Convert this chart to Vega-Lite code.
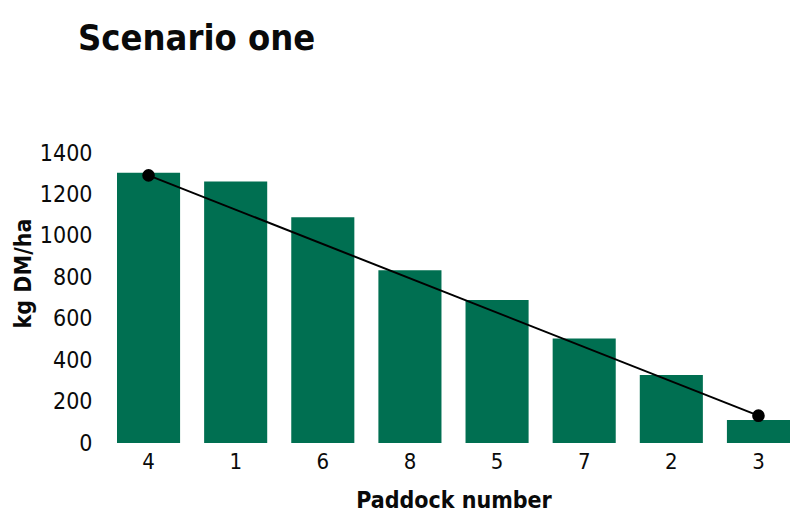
{
  "$schema": "https://vega.github.io/schema/vega-lite/v6.json",
  "autosize": "none",
  "width": 673,
  "height": 290,
  "padding": {"left": 117, "top": 153, "right": 0, "bottom": 88},
  "background": "white",
  "title": {
    "text": "Scenario one",
    "anchor": "start",
    "frame": "group",
    "dx": -39,
    "offset": 84,
    "fontSize": 36,
    "fontWeight": "bold",
    "font": "DejaVu Sans Condensed, sans-serif",
    "color": "#0a0a0a"
  },
  "config": {
    "view": {"stroke": null},
    "axis": {
      "labelFont": "DejaVu Sans Condensed, sans-serif",
      "titleFont": "DejaVu Sans Condensed, sans-serif",
      "labelColor": "#0a0a0a",
      "titleColor": "#0a0a0a",
      "labelFontSize": 23,
      "titleFontSize": 23,
      "titleFontWeight": "bold",
      "grid": false,
      "ticks": false,
      "domain": false
    }
  },
  "layer": [
    {
      "data": {"values": [
        {"paddock": "4", "value": 1305},
        {"paddock": "1", "value": 1262},
        {"paddock": "6", "value": 1090},
        {"paddock": "8", "value": 834},
        {"paddock": "5", "value": 690},
        {"paddock": "7", "value": 505},
        {"paddock": "2", "value": 328},
        {"paddock": "3", "value": 111}
      ]},
      "mark": {"type": "bar", "color": "#006f51"},
      "encoding": {
        "x": {
          "field": "paddock", "type": "ordinal", "sort": null,
          "scale": {"paddingInner": 0.276, "paddingOuter": 0},
          "axis": {"title": "Paddock number", "labelAngle": 0, "labelPadding": 8, "labelFontSize": 22, "titlePadding": 17}
        },
        "y": {
          "field": "value", "type": "quantitative",
          "scale": {"domain": [0, 1400], "nice": false},
          "axis": {"title": "kg DM/ha", "format": "d", "values": [0,200,400,600,800,1000,1200,1400], "labelPadding": 25, "titleX": -94, "titleY": 120, "titleAngle": -90, "titleBaseline": "middle", "titleAlign": "center"}
        }
      }
    },
    {
      "data": {"values": [
        {"paddock": "4", "value": 1292},
        {"paddock": "3", "value": 132}
      ]},
      "mark": {"type": "line", "color": "#000000", "strokeWidth": 2, "point": {"filled": true, "size": 160, "color": "#000000"}},
      "encoding": {
        "x": {"field": "paddock", "type": "ordinal", "sort": null},
        "y": {"field": "value", "type": "quantitative"}
      }
    }
  ]
}
